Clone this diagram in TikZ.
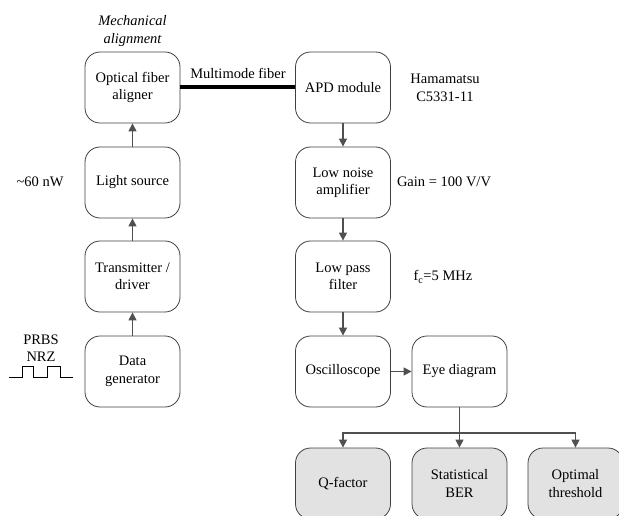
\documentclass[tikz,border=0pt]{standalone}
\usepackage{fontspec}
\setmainfont{Liberation Serif}
\usetikzlibrary{arrows.meta}
\definecolor{boxline}{HTML}{404040}
\definecolor{arrowc}{HTML}{505050}
\definecolor{boxfill}{HTML}{E2E2E2}
\tikzset{
  blk/.style={draw=boxline, line width=0.8pt, rounded corners=15pt, minimum width=95pt, minimum height=71pt, align=center, inner sep=2pt, font=\fontsize{14.5}{17.5}\selectfont, fill=white},
  gblk/.style={blk, fill=boxfill},
  lbl/.style={align=center, font=\fontsize{14.5}{17.5}\selectfont, inner sep=0pt},
  arr/.style={draw=arrowc, line width=1.3pt, -{Triangle[length=8pt,width=8pt]}},
}
\begin{document}
\begin{tikzpicture}[x=1pt,y=-1pt]
\useasboundingbox (0,0) rectangle (619,516);
\clip (0,0) rectangle (619,516);
% left column
\node[blk] (ofa) at (132.5,87.5) {Optical fiber\\aligner};
\node[blk] (ls) at (132.5,182.5) {Light source};
\node[blk] (tx) at (132.5,276.5) {Transmitter /\\driver};
\node[blk] (dg) at (132.5,371.5) {Data\\generator};
% right column
\node[blk] (apd) at (343,87.5) {APD module};
\node[blk] (lna) at (343,182.5) {Low noise\\amplifier};
\node[blk] (lpf) at (343,276.5) {Low pass\\filter};
\node[blk] (osc) at (343,371.5) {Oscilloscope};
\node[blk] (eye) at (459.5,371.5) {Eye diagram};
% results
\node[gblk] (qf) at (343,483.5) {Q-factor};
\node[gblk] (ber) at (459.5,483.5) {Statistical\\BER};
\node[gblk] (thr) at (575.5,483.5) {Optimal\\threshold};
% labels
\node[lbl, font=\fontsize{14.5}{17.5}\selectfont\itshape] (mech) at (132.5,31) {Mechanical\\alignment};
\node[lbl] (mmf) at (238,73) {Multimode fiber};
\node[lbl] (ham) at (445,88) {Hamamatsu\\C5331-11};
\node[lbl] (gain) at (444,182) {Gain = 100 V/V};
\node[lbl] (fc) at (443,277) {f\textsubscript{c}=5 MHz};
\node[lbl] (pw) at (40,182) {\textasciitilde60 nW};
\node[lbl] (prbs) at (41,348) {PRBS\\NRZ};
% square wave
\draw[line width=1pt, black] (9,377) -- (22,377) -- (22,366) -- (33,366) -- (33,377) -- (47,377) -- (47,366) -- (60,366) -- (60,377) -- (73,377);
% fiber
\draw[line width=4pt, black] (ofa.east) -- (apd.west);
% arrows
\draw[arr] (dg) -- (tx);
\draw[arr] (tx) -- (ls);
\draw[arr] (ls) -- (ofa);
\draw[arr] (apd) -- (lna);
\draw[arr] (lna) -- (lpf);
\draw[arr] (lpf) -- (osc);
\draw[arr] (osc) -- (eye);
\coordinate (br) at (459.5,433);
\draw[arr] (eye) -- (ber);
\draw[arr] (br) -| (qf.north);
\draw[arr] (br) -| (thr.north);
\end{tikzpicture}
\end{document}
